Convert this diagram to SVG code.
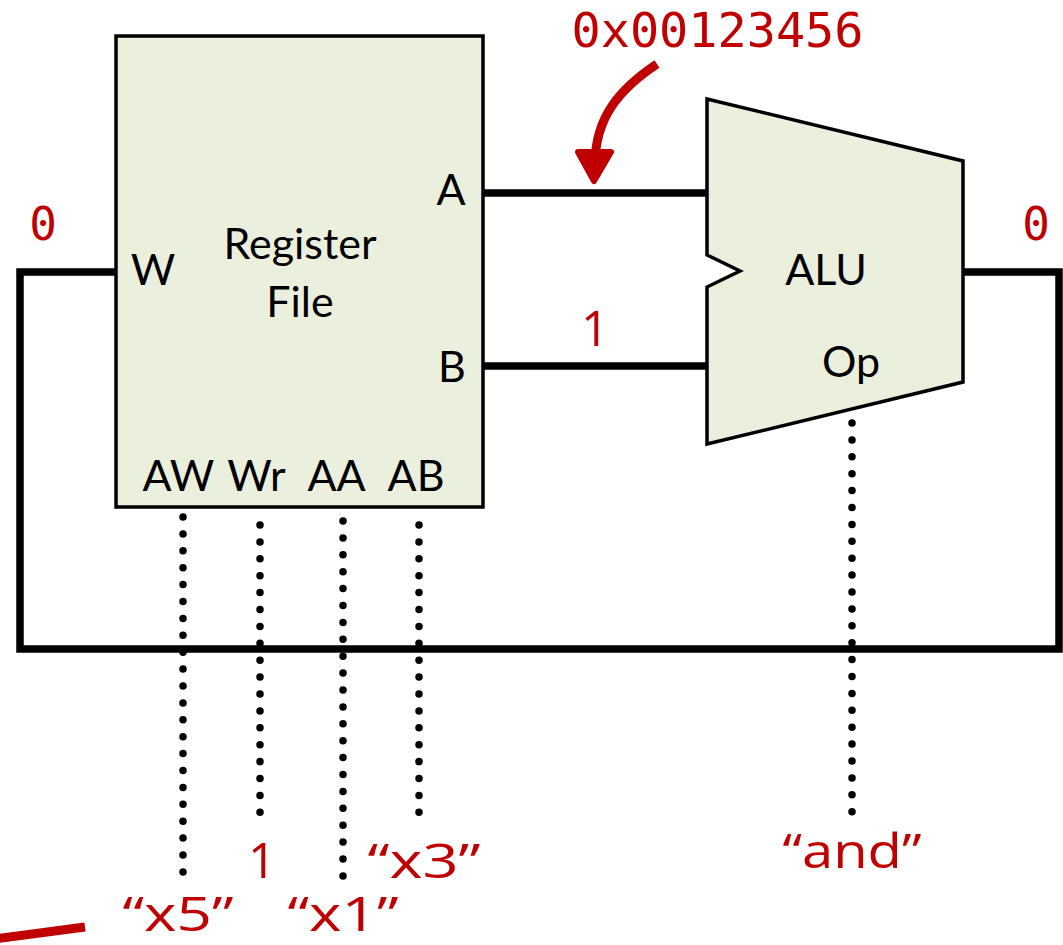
<svg xmlns="http://www.w3.org/2000/svg" width="1063" height="945" viewBox="0 0 1063 945">
<style>
.blk{font-family:Lato,"Open Sans","Liberation Sans",sans-serif;font-size:43px;fill:#000;text-anchor:middle}
.red{font-family:"Open Sans",Lato,"Liberation Sans",sans-serif;font-size:48px;fill:#C00000;text-anchor:middle}
.mono{font-family:"DejaVu Sans Mono","Liberation Mono",monospace;font-size:46px;fill:#C00000;text-anchor:middle}
.node{fill:#EBEFDE;stroke:#000;stroke-width:3.5}
.wire{fill:none;stroke:#000;stroke-width:7.5;stroke-linejoin:miter}
.dot{fill:none;stroke:#000;stroke-width:7.5;stroke-linecap:round;stroke-dasharray:0 16.9}
</style>
<rect width="1063" height="945" fill="#fff"/>
<g id="connectors">
<path class="wire" d="M116,272 H20 V649 H1059 V272 H963"/>
<path class="wire" d="M484,193 H707"/>
<path class="wire" d="M484,366 H707"/>
<line class="dot" x1="183" y1="517" x2="183" y2="873"/>
<line class="dot" x1="260" y1="525" x2="260" y2="814"/>
<line class="dot" x1="343" y1="521" x2="343" y2="877"/>
<line class="dot" x1="419" y1="525" x2="419" y2="814"/>
<line class="dot" x1="852" y1="423" x2="852" y2="813"/>
</g>
<g id="node-regfile">
<rect class="node" x="116" y="36" width="367" height="471"/>
<text class="blk" x="300" y="259">Register</text>
<text class="blk" x="300" y="317">File</text>
<text class="blk" x="153" y="285">W</text>
<text class="blk" x="451" y="205">A</text>
<text class="blk" x="452" y="382">B</text>
<text class="blk" x="178.5" y="491">AW</text>
<text class="blk" x="256.5" y="491">Wr</text>
<text class="blk" x="336.5" y="491">AA</text>
<text class="blk" x="416" y="491">AB</text>
</g>
<g id="node-alu">
<polygon class="node" points="707,99 963,161 963,382 707,444 707,287 740,271 707,255"/>
<text class="blk" x="826" y="285">ALU</text>
<text class="blk" x="851" y="377">Op</text>
</g>
<g id="annotations">
<text class="mono" x="717.5" y="47" style="font-size:48.5px">0x00123456</text>
<path d="M657,64 C618,90 596,118 595,162" fill="none" stroke="#C00000" stroke-width="9"/>
<path d="M578,152 L594,181 L611,152 Z" fill="#C00000" stroke="#C00000" stroke-width="6" stroke-linejoin="round"/>
<text class="mono" x="43" y="240">0</text>
<text class="mono" x="1036" y="240">0</text>
<text class="red" x="595" y="346" style="font-size:49px">1</text>
<text class="red" x="262" y="878" style="font-size:49px">1</text>
<text class="red" x="424" y="878" textLength="113" lengthAdjust="spacingAndGlyphs">“x3”</text>
<text class="red" x="178" y="931" textLength="111" lengthAdjust="spacingAndGlyphs">“x5”</text>
<text class="red" x="343" y="931" textLength="111" lengthAdjust="spacingAndGlyphs">“x1”</text>
<text class="red" x="852" y="868" textLength="139" lengthAdjust="spacingAndGlyphs">“and”</text>
<line x1="-5" y1="939" x2="85" y2="927" stroke="#C00000" stroke-width="9"/>
</g>
</svg>
